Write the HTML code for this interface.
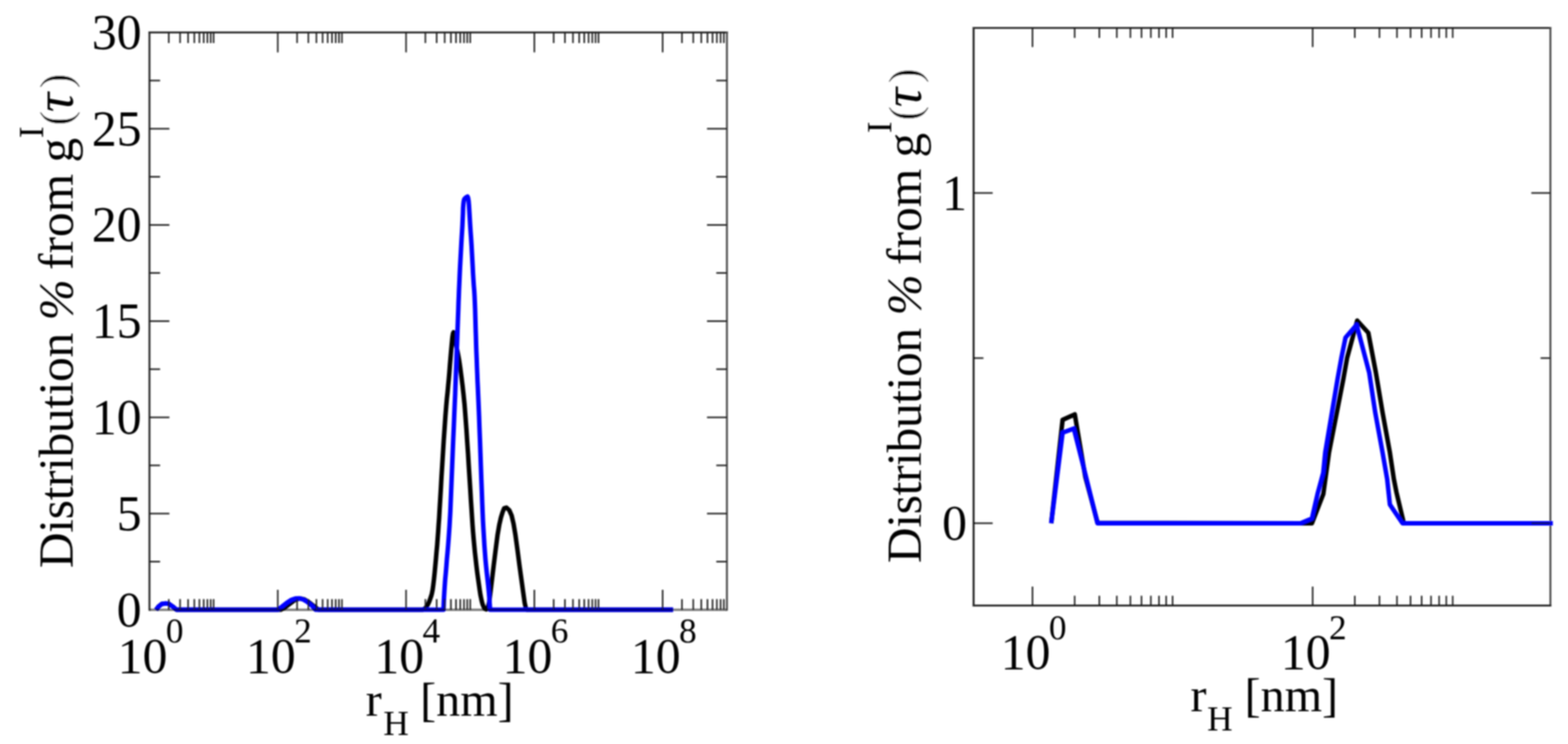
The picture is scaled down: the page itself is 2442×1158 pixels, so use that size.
<!DOCTYPE html>
<html><head><meta charset="utf-8"><style>html,body{margin:0;padding:0;background:#fff;overflow:hidden}svg{display:block}</style></head>
<body>
<svg width="2442" height="1158" viewBox="0 0 2442 1158">
<defs><filter id="soft" x="0" y="0" width="2442" height="1158" filterUnits="userSpaceOnUse"><feGaussianBlur stdDeviation="0.8"/></filter></defs>
<rect width="2442" height="1158" fill="#fff"/>
<g filter="url(#soft)">
<line x1="232.8" y1="49.0" x2="232.8" y2="950.6" stroke="#2a2a2a" stroke-width="3.0"/><line x1="231.3" y1="50.5" x2="1133.6" y2="50.5" stroke="#2a2a2a" stroke-width="3.0"/><line x1="1132.1" y1="49.0" x2="1132.1" y2="950.6" stroke="#4a4a4a" stroke-width="3.0"/>
<polyline points="243.0,949.1 247.0,944.0 252.0,940.0 258.0,939.2 263.0,939.8 269.0,944.0 275.0,949.1 437.0,949.1 443.0,946.0 451.0,940.0 459.0,934.0 467.0,931.5 474.0,933.0 482.0,938.0 489.0,943.5 496.0,949.1 658.0,949.1 658.4,948.9 659.2,948.4 660.4,947.8 661.9,946.8 663.5,945.4 665.0,943.4 666.4,940.8 667.9,937.7 669.2,934.4 670.4,931.0 671.6,927.5 672.6,923.8 673.7,918.4 674.7,911.2 675.8,902.2 676.9,891.6 677.9,880.9 678.9,870.2 679.8,859.5 680.8,848.8 681.6,838.1 682.4,827.4 683.1,816.8 683.9,806.1 684.6,793.4 685.5,778.6 686.5,761.9 687.5,743.2 688.7,724.2 689.9,704.8 691.1,685.1 692.5,665.1 693.7,647.5 694.9,632.5 696.0,620.0 697.1,610.0 698.0,599.8 699.0,589.4 699.9,578.9 700.7,568.1 701.6,557.4 702.5,546.7 703.5,536.1 704.5,525.4 705.5,519.1 706.5,517.1 707.5,519.4 708.5,526.1 709.5,532.3 710.6,538.1 711.7,543.5 712.8,548.5 713.9,554.1 715.0,560.2 716.0,566.9 717.0,574.1 717.9,581.1 718.8,587.9 719.6,594.4 720.4,600.6 721.1,607.2 721.9,614.1 722.6,621.2 723.4,628.8 724.2,639.1 725.2,652.2 726.4,668.2 727.6,687.0 728.9,705.8 730.0,724.5 731.2,743.2 732.4,761.9 733.4,778.6 734.4,793.4 735.2,806.1 735.9,816.8 736.7,827.4 737.6,838.1 738.6,848.8 739.6,859.5 740.8,870.2 742.0,880.9 743.3,891.6 744.8,902.2 746.1,911.5 747.2,919.3 748.2,925.7 749.2,930.6 750.1,934.9 751.0,938.5 752.0,941.6 753.0,943.9 753.9,945.8 754.8,947.1 755.6,947.9 756.4,948.1 756.9,948.3 757.3,948.4 757.5,948.5 758.4,947.4 760.0,945.1 761.9,936.7 763.8,922.1 766.1,903.1 768.9,879.9 771.8,856.6 774.8,833.2 777.7,816.2 780.2,805.4 782.8,797.0 785.2,791.0 788.7,790.0 793.1,794.0 796.8,802.4 799.8,815.2 802.8,833.2 806.0,856.6 809.0,879.9 812.2,903.1 814.9,922.6 817.1,938.2 819.0,946.8 820.3,948.3 821.0,949.1 1048.0,949.1" fill="none" stroke="#000" stroke-width="7.0" stroke-linejoin="round" stroke-linecap="butt" />
<polyline points="243.0,949.1 247.0,944.0 252.0,940.0 258.0,939.2 263.0,939.8 269.0,944.0 275.0,949.1 433.0,949.1 440.0,943.5 447.0,938.0 454.0,933.5 460.0,931.5 466.0,931.2 472.0,933.0 478.0,936.5 485.0,942.0 491.5,949.1 690.6,949.1 690.7,947.2 690.9,943.3 691.1,937.6 691.5,929.8 692.0,921.4 692.6,912.2 693.3,902.2 694.3,891.6 695.2,880.9 696.0,870.2 697.0,859.5 697.9,848.8 698.7,838.4 699.4,828.4 700.1,818.6 700.6,809.2 701.3,797.1 701.9,782.4 702.6,765.1 703.4,745.1 704.2,725.2 705.0,705.2 705.8,685.1 706.7,665.1 707.4,647.8 708.0,633.4 708.5,621.8 708.9,613.0 709.2,603.5 709.6,593.3 710.0,582.3 710.5,570.7 710.9,559.0 711.3,547.4 711.8,535.7 712.2,524.1 712.6,512.7 713.0,501.7 713.4,491.0 713.8,480.6 714.1,470.7 714.5,461.4 714.8,452.6 715.2,444.4 715.6,435.4 716.0,425.8 716.5,415.5 717.1,404.5 717.7,393.5 718.3,382.5 718.9,371.5 719.6,360.5 720.2,350.2 720.6,340.7 721.0,331.9 721.2,323.8 721.7,317.5 722.3,312.8 723.1,309.9 724.1,308.8 725.1,307.8 726.1,307.0 727.1,306.4 728.1,305.9 729.0,308.0 729.8,312.7 730.4,319.8 731.0,329.5 731.6,339.5 732.2,349.8 732.9,360.5 733.7,371.5 734.4,382.5 735.0,393.5 735.6,404.5 736.2,415.5 736.7,425.8 737.3,435.4 737.9,444.4 738.6,452.6 739.1,461.4 739.5,470.7 739.9,480.6 740.2,491.0 740.5,501.7 740.8,512.7 741.2,524.1 741.5,535.7 741.9,547.4 742.4,559.0 742.8,570.7 743.3,582.3 743.7,593.3 744.2,603.5 744.6,613.0 745.0,621.8 745.5,633.4 746.1,647.8 746.7,665.1 747.5,685.1 748.2,705.2 748.9,725.2 749.6,745.1 750.4,765.1 751.0,782.4 751.6,797.1 752.1,809.2 752.6,818.6 753.2,828.4 753.8,838.4 754.4,848.8 755.2,859.5 756.0,870.2 757.0,880.9 758.1,891.6 759.3,902.2 760.4,912.2 761.3,921.4 762.0,929.8 762.5,937.6 762.9,943.3 763.2,947.2 763.3,949.1 1048.4,949.1" fill="none" stroke="#0000ff" stroke-width="7.0" stroke-linejoin="round" stroke-linecap="butt" />
<line x1="232.8" y1="949.1" x2="1132.1" y2="949.1" stroke="#000" stroke-opacity="0.5" stroke-width="3.6"/>
<path stroke="#111" stroke-width="2.2" d="M262.87 949.10V932.60M262.87 50.50V67.00M280.46 949.10V932.60M280.46 50.50V67.00M292.95 949.10V932.60M292.95 50.50V67.00M302.63 949.10V932.60M302.63 50.50V67.00M310.54 949.10V932.60M310.54 50.50V67.00M317.23 949.10V932.60M317.23 50.50V67.00M323.02 949.10V932.60M323.02 50.50V67.00M328.13 949.10V932.60M328.13 50.50V67.00M332.70 949.10V932.60M332.70 50.50V67.00M432.60 949.10V918.10M432.60 50.50V81.50M462.67 949.10V932.60M462.67 50.50V67.00M480.26 949.10V932.60M480.26 50.50V67.00M492.75 949.10V932.60M492.75 50.50V67.00M502.43 949.10V932.60M502.43 50.50V67.00M510.34 949.10V932.60M510.34 50.50V67.00M517.03 949.10V932.60M517.03 50.50V67.00M522.82 949.10V932.60M522.82 50.50V67.00M527.93 949.10V932.60M527.93 50.50V67.00M532.50 949.10V932.60M532.50 50.50V67.00M632.40 949.10V918.10M632.40 50.50V81.50M662.47 949.10V932.60M662.47 50.50V67.00M680.06 949.10V932.60M680.06 50.50V67.00M692.55 949.10V932.60M692.55 50.50V67.00M702.23 949.10V932.60M702.23 50.50V67.00M710.14 949.10V932.60M710.14 50.50V67.00M716.83 949.10V932.60M716.83 50.50V67.00M722.62 949.10V932.60M722.62 50.50V67.00M727.73 949.10V932.60M727.73 50.50V67.00M732.30 949.10V932.60M732.30 50.50V67.00M832.20 949.10V918.10M832.20 50.50V81.50M862.27 949.10V932.60M862.27 50.50V67.00M879.86 949.10V932.60M879.86 50.50V67.00M892.35 949.10V932.60M892.35 50.50V67.00M902.03 949.10V932.60M902.03 50.50V67.00M909.94 949.10V932.60M909.94 50.50V67.00M916.63 949.10V932.60M916.63 50.50V67.00M922.42 949.10V932.60M922.42 50.50V67.00M927.53 949.10V932.60M927.53 50.50V67.00M932.10 949.10V932.60M932.10 50.50V67.00M1032.00 949.10V918.10M1032.00 50.50V81.50M1062.07 949.10V932.60M1062.07 50.50V67.00M1079.66 949.10V932.60M1079.66 50.50V67.00M1092.15 949.10V932.60M1092.15 50.50V67.00M1101.83 949.10V932.60M1101.83 50.50V67.00M1109.74 949.10V932.60M1109.74 50.50V67.00M1116.43 949.10V932.60M1116.43 50.50V67.00M1122.22 949.10V932.60M1122.22 50.50V67.00M1127.33 949.10V932.60M1127.33 50.50V67.00M232.80 799.34H263.80M1132.10 799.34H1101.10M232.80 649.57H263.80M1132.10 649.57H1101.10M232.80 499.81H263.80M1132.10 499.81H1101.10M232.80 350.04H263.80M1132.10 350.04H1101.10M232.80 200.28H263.80M1132.10 200.28H1101.10M232.80 874.22H249.30M1132.10 874.22H1115.60M232.80 724.45H249.30M1132.10 724.45H1115.60M232.80 574.69H249.30M1132.10 574.69H1115.60M232.80 424.92H249.30M1132.10 424.92H1115.60M232.80 275.16H249.30M1132.10 275.16H1115.60M232.80 125.39H249.30M1132.10 125.39H1115.60"/>
<line x1="1516.3" y1="42.1" x2="1516.3" y2="944.1" stroke="#1e1e1e" stroke-width="3.0"/><line x1="1514.8" y1="43.6" x2="2416.1" y2="43.6" stroke="#2e2e2e" stroke-width="3.0"/><line x1="2414.6" y1="42.1" x2="2414.6" y2="944.1" stroke="#4a4a4a" stroke-width="3.0"/><line x1="1514.8" y1="942.6" x2="2416.1" y2="942.6" stroke="#262626" stroke-width="3.0"/>
<polyline points="1637.2,814.4 1654.9,653.5 1673.9,645.0 1690.2,742.0 1709.5,813.8 2025.0,814.4 2043.2,814.4 2060.9,769.0 2069.8,704.3 2092.1,590.0 2098.0,557.0 2103.7,536.0 2113.7,499.0 2131.0,518.0 2142.8,580.0 2153.2,642.2 2164.6,704.4 2170.8,745.8 2174.9,766.5 2186.3,814.4 2418.0,814.4" fill="none" stroke="#000" stroke-width="7.0" stroke-linejoin="round" stroke-linecap="butt" stroke-linejoin="miter"/>
<polyline points="1637.2,814.4 1654.9,673.5 1672.3,666.9 1690.2,737.5 1709.2,814.4 2025.5,814.4 2043.2,807.0 2051.9,769.0 2060.8,736.0 2063.9,704.3 2083.1,590.0 2089.1,557.0 2095.5,525.5 2112.8,505.5 2132.4,580.0 2141.8,642.2 2153.2,704.4 2160.4,745.8 2164.6,785.2 2184.2,814.4 2418.4,814.4" fill="none" stroke="#0000ff" stroke-width="7.0" stroke-linejoin="round" stroke-linecap="butt" />
<path stroke="#111" stroke-width="2.2" d="M1608.00 942.60V912.90M1608.00 43.60V73.30M1673.67 942.60V927.30M1673.67 43.60V58.90M1712.08 942.60V927.30M1712.08 43.60V58.90M1739.34 942.60V927.30M1739.34 43.60V58.90M1760.48 942.60V927.30M1760.48 43.60V58.90M1777.75 942.60V927.30M1777.75 43.60V58.90M1792.36 942.60V927.30M1792.36 43.60V58.90M1805.01 942.60V927.30M1805.01 43.60V58.90M1816.17 942.60V927.30M1816.17 43.60V58.90M1826.15 942.60V927.30M1826.15 43.60V58.90M2044.30 942.60V912.90M2044.30 43.60V73.30M2109.97 942.60V927.30M2109.97 43.60V58.90M2148.38 942.60V927.30M2148.38 43.60V58.90M2175.64 942.60V927.30M2175.64 43.60V58.90M2196.78 942.60V927.30M2196.78 43.60V58.90M2214.05 942.60V927.30M2214.05 43.60V58.90M2228.66 942.60V927.30M2228.66 43.60V58.90M2241.31 942.60V927.30M2241.31 43.60V58.90M2252.47 942.60V927.30M2252.47 43.60V58.90M2262.45 942.60V927.30M2262.45 43.60V58.90M1516.30 814.40H1546.00M2414.60 814.40H2384.90M1516.30 300.30H1546.00M2414.60 300.30H2384.90M1516.30 557.35H1531.60M2414.60 557.35H2399.30"/>
<g font-family="Liberation Serif, Times New Roman, serif" fill="#000">
<text x="220.5" y="974.5" font-size="77.5" text-anchor="end">0</text>
<text x="220.5" y="824.7" font-size="77.5" text-anchor="end">5</text>
<text x="220.5" y="675.0" font-size="77.5" text-anchor="end">10</text>
<text x="220.5" y="525.2" font-size="77.5" text-anchor="end">15</text>
<text x="220.5" y="375.4" font-size="77.5" text-anchor="end">20</text>
<text x="220.5" y="225.7" font-size="77.5" text-anchor="end">25</text>
<text x="220.5" y="75.9" font-size="77.5" text-anchor="end">30</text>
<text x="183.3" y="1047.1" font-size="77.5">10</text>
<text x="258.3" y="1000.3" font-size="55">0</text>
<text x="383.1" y="1047.1" font-size="77.5">10</text>
<text x="458.1" y="1000.3" font-size="55">2</text>
<text x="582.9" y="1047.1" font-size="77.5">10</text>
<text x="657.9" y="1000.3" font-size="55">4</text>
<text x="782.7" y="1047.1" font-size="77.5">10</text>
<text x="857.7" y="1000.3" font-size="55">6</text>
<text x="982.5" y="1047.1" font-size="77.5">10</text>
<text x="1057.5" y="1000.3" font-size="55">8</text>
<text x="1506" y="839.8" font-size="77.5" text-anchor="end">0</text>
<text x="1506" y="325.7" font-size="77.5" text-anchor="end">1</text>
<text x="1558.5" y="1041" font-size="77.5">10</text>
<text x="1633.5" y="994.5" font-size="55">0</text>
<text x="1994.8" y="1041" font-size="77.5">10</text>
<text x="2069.8" y="994.5" font-size="55">2</text>
<text y="1114" font-size="75"><tspan x="569.5">r</tspan><tspan x="596.9" y="1143.8" font-size="55">H </tspan><tspan x="654.2" y="1114">[nm]</tspan></text>
<text y="1107.1" font-size="75"><tspan x="1853.9">r</tspan><tspan x="1879.9" y="1136.9" font-size="55">H </tspan><tspan x="1938.25" y="1107.1">[nm]</tspan></text>
<text transform="translate(113.1,0) rotate(-90)" font-size="77"><tspan x="-884.2" y="0" letter-spacing="-0.55">Distribution </tspan><tspan x="-498.7" y="0" font-style="italic">% </tspan><tspan x="-420.2" y="0">from </tspan><tspan x="-253.1" y="0">g</tspan><tspan x="-215.0" y="-46" font-size="55">I</tspan><tspan x="-195.5" y="-2.6" font-size="69" stroke="#fff" stroke-width="0.8">(</tspan><tspan x="-174.5" y="0" font-size="84" font-style="italic">τ</tspan><tspan x="-137.4" y="-2.6" font-size="69" stroke="#fff" stroke-width="0.8">)</tspan></text>
<text transform="translate(1434.4,0) rotate(-90)" font-size="77"><tspan x="-876.4" y="0" letter-spacing="-0.55">Distribution </tspan><tspan x="-490.9" y="0" font-style="italic">% </tspan><tspan x="-412.4" y="0">from </tspan><tspan x="-245.3" y="0">g</tspan><tspan x="-207.2" y="-46" font-size="55">I</tspan><tspan x="-187.7" y="-2.6" font-size="69" stroke="#fff" stroke-width="0.8">(</tspan><tspan x="-166.7" y="0" font-size="84" font-style="italic">τ</tspan><tspan x="-129.6" y="-2.6" font-size="69" stroke="#fff" stroke-width="0.8">)</tspan></text>
</g>
</g>
</svg>
</body></html>
